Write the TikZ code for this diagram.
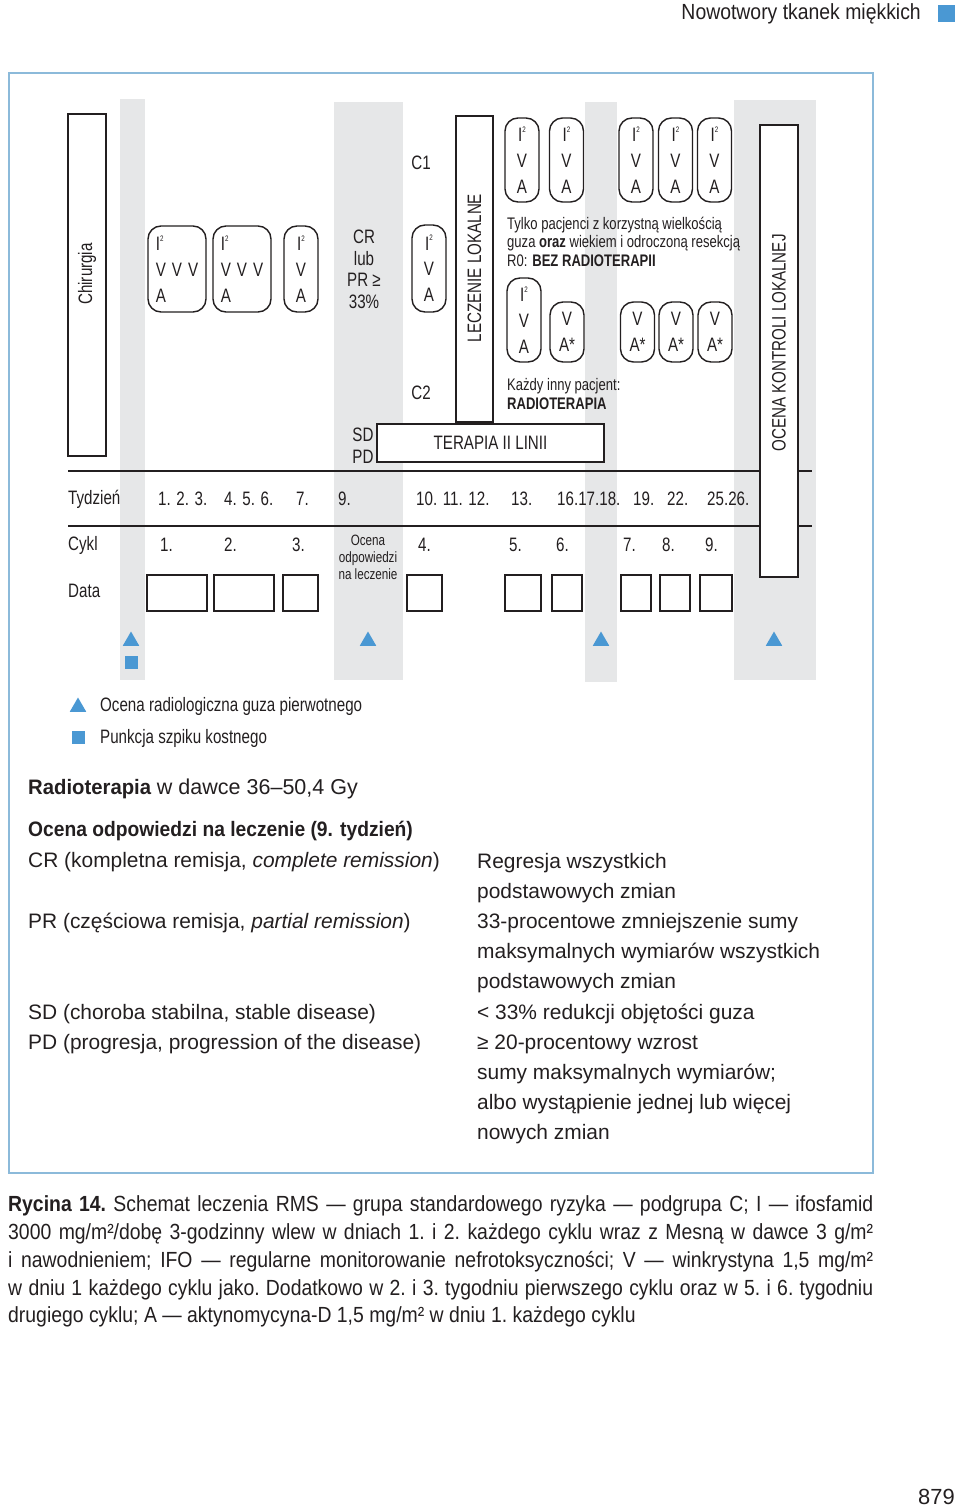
\documentclass[tikz,border=0pt]{standalone}
\usepackage{fontspec}
\setmainfont{Liberation Sans}
\newfontfamily\cond[FakeStretch=0.78]{Liberation Sans}
\newfontfamily\capf[FakeStretch=0.885]{Liberation Sans}
\newfontfamily\bnar[FakeStretch=0.92]{Liberation Sans}
\newfontfamily\bwide[FakeStretch=0.97]{Liberation Sans}
\usetikzlibrary{shapes.geometric}
\definecolor{bandgray}{RGB}{230,231,232}
\definecolor{framebl}{RGB}{140,186,218}
\definecolor{accent}{RGB}{74,152,211}
\definecolor{ink}{RGB}{35,31,32}
\newcommand\fdg{\cond\fontsize{19.5}{26}\selectfont}
\newcommand\fcr{\cond\fontsize{19.5}{21.7}\selectfont}
\newcommand\fsm{\cond\fontsize{16.8}{18.5}\selectfont}
\newcommand\fxs{\cond\fontsize{15}{17}\selectfont}
\newcommand\fbody{\fontsize{21}{30.3}\selectfont}
\newcommand\fcap{\capf\fontsize{22}{28}\selectfont\frenchspacing}
\newcommand\Iq{I\raisebox{0.48em}{\fontsize{8}{8}\selectfont 2}}
\newcommand\VVV{V\hspace{6bp}V\hspace{6bp}V}
\begin{document}
\begin{tikzpicture}[x=1bp,y=-1bp,
  every node/.style={inner sep=0pt, text=ink},
  boxv/.style={draw=ink, line width=1.5bp, fill=white},
  pillbox/.style={draw=ink, line width=1.4bp, fill=white, rounded corners=13bp, align=center, font=\fdg},
  tinypill/.style={pillbox, minimum width=34bp},
  databox/.style={draw=ink, line width=1.5bp, fill=white, minimum height=36bp},
  dgtext/.style={font=\fdg},
  rowlbl/.style={font=\fdg, anchor=west},
  tri/.style={regular polygon, regular polygon sides=3, fill=accent, minimum size=19bp},
  sqmark/.style={fill=accent, minimum size=13bp},
  bodytxt/.style={font=\fbody, anchor=west},
  capline/.style={font=\fcap, anchor=west}
]
\useasboundingbox (0,0) rectangle (960,1509);
\fill[white] (0,0) rectangle (960,1509);

% header
\fill[accent] (938,5) rectangle (955,22);
\node[font=\fcap, anchor=east] (hdr) at (921,14) {Nowotwory tkanek miękkich};

% frame
\draw[framebl, line width=1.6bp] (9,73) rectangle (873,1173);

% gray bands
\fill[bandgray] (120,99) rectangle (145,680);
\fill[bandgray] (334,102) rectangle (403,680);
\fill[bandgray] (585,102) rectangle (617,682);
\fill[bandgray] (734,100) rectangle (816,680);

% rules
\draw[ink, line width=1.3bp] (68,471) -- (812,471);
\draw[ink, line width=1.3bp] (68,526) -- (812,526);

% tall boxes
\node[boxv, minimum width=38bp, minimum height=342bp] (chir) at (87,285) {};
\node[dgtext, rotate=90] (chirt) at (87,274) {Chirurgia};
\node[boxv, minimum width=37bp, minimum height=306bp] (lecz) at (474.5,269) {};
\node[dgtext, rotate=90] (leczt) at (474.5,268) {LECZENIE LOKALNE};
\node[boxv, minimum width=38bp, minimum height=452bp] (okl) at (779,351) {};
\node[dgtext, rotate=90] (oklt) at (779,343) {OCENA KONTROLI LOKALNEJ};
\node[boxv, minimum width=227bp, minimum height=38bp, font=\fdg] (ter) at (490.5,443) {TERAPIA II LINII};

% first-phase pills
\node[pillbox, minimum width=58bp, minimum height=86bp, align=left] (pa) at (177,269) {\Iq\\\VVV\\A};
\node[pillbox, minimum width=58bp, minimum height=86bp, align=left] (pb) at (242,269) {\Iq\\\VVV\\A};
\node[tinypill, minimum height=86bp] (pc) at (301,269) {\Iq\\V\\A};
\node[font=\fcr, align=center] (crpr) at (364,269.5) {CR\\lub\\PR ≥\\33\%};
\node[dgtext] (c1) at (421,163) {C1};
\node[dgtext] (c2) at (421,393) {C2};
\node[tinypill, minimum height=87bp] (pd) at (429,268.5) {\Iq\\V\\A};
\node[font=\fcr, align=center] (sdpd) at (363,446) {SD\\PD};

% C1 row
\node[tinypill, minimum height=84bp] (t1) at (522,160) {\Iq\\V\\A};
\node[tinypill, minimum height=84bp] (t2) at (566.5,160) {\Iq\\V\\A};
\node[tinypill, minimum height=84bp] (t3) at (636,160) {\Iq\\V\\A};
\node[tinypill, minimum height=84bp] (t4) at (675.5,160) {\Iq\\V\\A};
\node[tinypill, minimum height=84bp] (t5) at (714.5,160) {\Iq\\V\\A};
\node[font=\fsm, anchor=west, align=left] (tylko) at (507,241.5)
  {Tylko pacjenci z korzystną wielkością\\guza \textbf{oraz} wiekiem i odroczoną resekcją\\R0: \textbf{BEZ RADIOTERAPII}};

% C2 row
\node[tinypill, minimum height=84bp] (q1) at (524,320) {\Iq\\V\\A};
\node[tinypill, minimum height=60bp] (q2) at (567,332) {V\\A*};
\node[tinypill, minimum height=60bp] (q3) at (637.5,332) {V\\A*};
\node[tinypill, minimum height=60bp] (q4) at (676,332) {V\\A*};
\node[tinypill, minimum height=60bp] (q5) at (715,332) {V\\A*};
\node[font=\fsm, anchor=west, align=left] (kazdy) at (507,394)
  {Każdy inny pacjent:\\\textbf{RADIOTERAPIA}};

% week row
\node[rowlbl] (tyd) at (68,499) {Tydzień};
\node[rowlbl] (w1) at (158,499) {1. 2. 3.};
\node[rowlbl] (w2) at (224,499) {4. 5. 6.};
\node[rowlbl] (w3) at (296,499) {7.};
\node[rowlbl] (w4) at (338,499) {9.};
\node[rowlbl] (w5) at (416,499) {10. 11. 12.};
\node[rowlbl] (w6) at (511,499) {13.};
\node[rowlbl] (w7) at (557,499) {16.17.18.};
\node[rowlbl] (w8) at (633,499) {19.};
\node[rowlbl] (w9) at (667,499) {22.};
\node[rowlbl] (w10) at (707,499) {25.26.};

% cycle row
\node[rowlbl] (cyk) at (68,545) {Cykl};
\node[rowlbl] (k1) at (160,545) {1.};
\node[rowlbl] (k2) at (224,545) {2.};
\node[rowlbl] (k3) at (292,545) {3.};
\node[font=\fxs, align=center] (ocod) at (368,557) {Ocena\\odpowiedzi\\na leczenie};
\node[rowlbl] (k4) at (418,545) {4.};
\node[rowlbl] (k5) at (509,545) {5.};
\node[rowlbl] (k6) at (556,545) {6.};
\node[rowlbl] (k7) at (623,545) {7.};
\node[rowlbl] (k8) at (662,545) {8.};
\node[rowlbl] (k9) at (705,545) {9.};

% date row
\node[rowlbl] (dat) at (68,591) {Data};
\node[databox, minimum width=60bp] (d1) at (177,593) {};
\node[databox, minimum width=60bp] (d2) at (244,593) {};
\node[databox, minimum width=35bp] (d3) at (300.5,593) {};
\node[databox, minimum width=35bp] (d4) at (424.5,593) {};
\node[databox, minimum width=36bp] (d5) at (523,593) {};
\node[databox, minimum width=30bp] (d6) at (567,593) {};
\node[databox, minimum width=30bp] (d7) at (636,593) {};
\node[databox, minimum width=30bp] (d8) at (675,593) {};
\node[databox, minimum width=32bp] (d9) at (716,593) {};

% markers
\node[tri] (m1) at (131,641) {};
\node[sqmark] (s1) at (131,662) {};
\node[tri] (m2) at (368,641) {};
\node[tri] (m3) at (601,641) {};
\node[tri] (m4) at (774,641) {};

% legend
\node[tri] (lg1) at (78,707) {};
\node[rowlbl] (lg1t) at (100,706) {Ocena radiologiczna guza pierwotnego};
\node[sqmark] (lg2) at (78,737) {};
\node[rowlbl] (lg2t) at (100,738) {Punkcja szpiku kostnego};

% body text
\node[bodytxt] (radio) at (28,789) {{\bwide\bfseries Radioterapia} {\fontsize{21.6}{30}\selectfont w dawce 36–50,4 Gy}};
\node[bodytxt] (ocena) at (28,831) {\bnar\bfseries Ocena odpowiedzi na leczenie (9. tydzień)};
\node[bodytxt] (cr) at (28,862) {CR (kompletna remisja, \textit{complete remission})};
\node[bodytxt] (pr) at (28,923) {PR (częściowa remisja, \textit{partial remission})};
\node[bodytxt] (sd) at (28,1014) {SD (choroba stabilna, stable disease)};
\node[bodytxt] (pd2) at (28,1044) {PD (progresja, progression of the disease)};
\node[bodytxt, align=left] (defs) at (477,998.5) {Regresja wszystkich\\podstawowych zmian\\33-procentowe zmniejszenie sumy\\maksymalnych wymiarów wszystkich\\podstawowych zmian\\< 33\% redukcji objętości guza\\≥ 20-procentowy wzrost\\sumy maksymalnych wymiarów;\\albo wystąpienie jednej lub więcej\\nowych zmian};

% caption
\node[capline] (cap1) at (8,1206) {\hbox to 865bp{\textbf{Rycina 14.} Schemat leczenia RMS — grupa standardowego ryzyka — podgrupa C; I — ifosfamid}};
\node[capline] (cap2) at (8,1234) {\hbox to 865bp{3000 mg/m²/dobę 3-godzinny wlew w dniach 1. i 2. każdego cyklu wraz z Mesną w dawce 3 g/m²}};
\node[capline] (cap3) at (8,1262) {\hbox to 865bp{i nawodnieniem; IFO — regularne monitorowanie nefrotoksyczności; V — winkrystyna 1,5 mg/m²}};
\node[capline] (cap4) at (8,1290) {\hbox to 865bp{w dniu 1 każdego cyklu jako. Dodatkowo w 2. i 3. tygodniu pierwszego cyklu oraz w 5. i 6. tygodniu}};
\node[capline] (cap5) at (8,1317) {drugiego cyklu; A — aktynomycyna-D 1,5 mg/m² w dniu 1. każdego cyklu};

% page number
\node[font=\fontsize{22}{26}\selectfont, anchor=east] (pg) at (955,1497) {879};
\end{tikzpicture}
\end{document}
